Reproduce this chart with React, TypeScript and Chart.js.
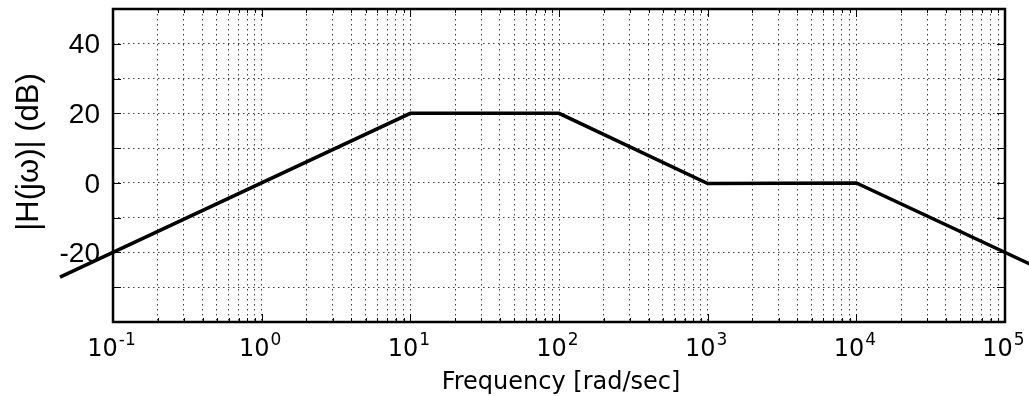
import React, { useEffect, useRef } from 'react';
import { Chart, registerables } from 'chart.js';

Chart.register(...registerables);

// Asymptotic Bode magnitude plot (straight-line approximation)
const frequencies = [0.044, 10, 100, 1000, 10000, 200000];
const magnitudeDb = [-27.1, 20, 20, -0.2, 0, -26.0];

const xDecadeExponents = [-1, 0, 1, 2, 3, 4, 5];
const xMinorMultipliers = [1, 2, 3, 4, 5, 6, 7, 8, 9];
const yTickValues = [-40, -30, -20, -10, 0, 10, 20, 30, 40, 50];
const yLabelValues = [40, 20, 0, -20];
const xTitle = 'Frequency [rad/sec]';
const yTitle = '|H(jω)| (dB)';

const X_MIN = 0.1;
const X_MAX = 100000;
const Y_MIN = -40;
const Y_MAX = 50;

const overlayPlugin = {
  id: 'bodeOverlay',
  afterDraw(chart: any) {
    const ctx = chart.ctx as CanvasRenderingContext2D;
    const area = chart.chartArea;
    const xs = chart.scales.x;
    const ys = chart.scales.y;
    ctx.save();

    // inward tick marks
    ctx.strokeStyle = '#000';
    ctx.lineWidth = 1;
    ctx.beginPath();
    for (const e of xDecadeExponents) {
      for (const m of xMinorMultipliers) {
        const v = m * Math.pow(10, e);
        if (v < X_MIN - 1e-12 || v > X_MAX * 1.0000001) continue;
        const px = Math.round(xs.getPixelForValue(v)) + 0.5;
        const len = m === 1 ? 8 : 4;
        ctx.moveTo(px, area.bottom);
        ctx.lineTo(px, area.bottom - len);
        ctx.moveTo(px, area.top);
        ctx.lineTo(px, area.top + len);
      }
    }
    for (const v of yTickValues) {
      const py = Math.round(ys.getPixelForValue(v)) + 0.5;
      ctx.moveTo(area.left, py);
      ctx.lineTo(area.left + 8, py);
      ctx.moveTo(area.right, py);
      ctx.lineTo(area.right - 8, py);
    }
    ctx.stroke();

    // frame
    ctx.lineWidth = 2.5;
    ctx.strokeRect(area.left, area.top, area.right - area.left, area.bottom - area.top);

    // y tick labels
    ctx.fillStyle = '#000';
    ctx.font = '28px "Liberation Sans", Arial, sans-serif';
    ctx.textAlign = 'right';
    ctx.textBaseline = 'middle';
    for (const v of yLabelValues) {
      ctx.fillText(String(v), area.left - 13, ys.getPixelForValue(v) + 2);
    }

    // x tick labels 10^n
    const baseFont = '24px "DejaVu Sans", sans-serif';
    const supFont = '17px "DejaVu Sans", sans-serif';
    ctx.textAlign = 'left';
    ctx.textBaseline = 'alphabetic';
    for (const e of xDecadeExponents) {
      const px = xs.getPixelForValue(Math.pow(10, e));
      ctx.font = baseFont;
      const wBase = ctx.measureText('10').width;
      ctx.font = supFont;
      const sup = String(e);
      const wSup = ctx.measureText(sup).width;
      const left = px - (wBase + wSup) / 2 - 2;
      ctx.font = baseFont;
      ctx.fillText('10', left, 356);
      ctx.font = supFont;
      ctx.fillText(sup, left + wBase + 1, 345);
    }

    // x title
    ctx.font = '24px "DejaVu Sans", sans-serif';
    ctx.textAlign = 'center';
    ctx.fillText(xTitle, (area.left + area.right) / 2 + 2, 389);

    // y title
    ctx.translate(29, 152);
    ctx.rotate(-Math.PI / 2);
    ctx.font = '31px "Liberation Sans", Arial, sans-serif';
    ctx.textAlign = 'center';
    ctx.textBaseline = 'middle';
    ctx.fillText(yTitle, 0, 0);

    ctx.restore();
  },
};

export default function App() {
  const canvasRef = useRef<HTMLCanvasElement | null>(null);

  useEffect(() => {
    const canvas = canvasRef.current;
    if (!canvas) return;
    const chart = new Chart(canvas, {
      type: 'line',
      data: {
        datasets: [
          {
            data: frequencies.map((f, i) => ({ x: f, y: magnitudeDb[i] })),
            borderColor: '#000',
            borderWidth: 3.5,
            pointRadius: 0,
            tension: 0,
            fill: false,
            clip: false as any,
          },
        ],
      },
      options: {
        animation: false,
        responsive: false,
        maintainAspectRatio: false,
        layout: { padding: { top: 9, right: 24, left: 0, bottom: 0 } },
        plugins: {
          legend: { display: false },
          tooltip: { enabled: false },
        },
        scales: {
          x: {
            type: 'logarithmic',
            min: X_MIN,
            max: X_MAX,
            ticks: { display: false, autoSkip: false },
            grid: {
              color: 'rgba(0,0,0,0.75)',
              lineWidth: 1,
              drawTicks: false,
            },
            border: { display: false, dash: [1.5, 3.5] },
            afterBuildTicks(scale: any) {
              const t: { value: number }[] = [];
              for (const e of xDecadeExponents) {
                for (const m of xMinorMultipliers) {
                  const v = m * Math.pow(10, e);
                  if (v >= X_MIN * 0.999999 && v <= X_MAX * 1.000001) t.push({ value: v });
                }
              }
              scale.ticks = t;
            },
            afterFit(scale: any) {
              scale.height = 74;
            },
          },
          y: {
            type: 'linear',
            min: Y_MIN,
            max: Y_MAX,
            ticks: { display: false, stepSize: 10 },
            grid: {
              color: 'rgba(0,0,0,0.75)',
              lineWidth: 1,
              drawTicks: false,
            },
            border: { display: false, dash: [1.5, 3.5] },
            afterBuildTicks(scale: any) {
              scale.ticks = yTickValues.map((v) => ({ value: v }));
            },
            afterFit(scale: any) {
              scale.width = 113;
            },
          },
        },
      },
      plugins: [overlayPlugin],
    });
    return () => chart.destroy();
  }, []);

  return (
    <div style={{ position: 'absolute', left: 0, top: 0, width: 1029, height: 396, background: '#fff' }}>
      <canvas ref={canvasRef} width={1029} height={396} style={{ display: 'block' }} />
    </div>
  );
}
